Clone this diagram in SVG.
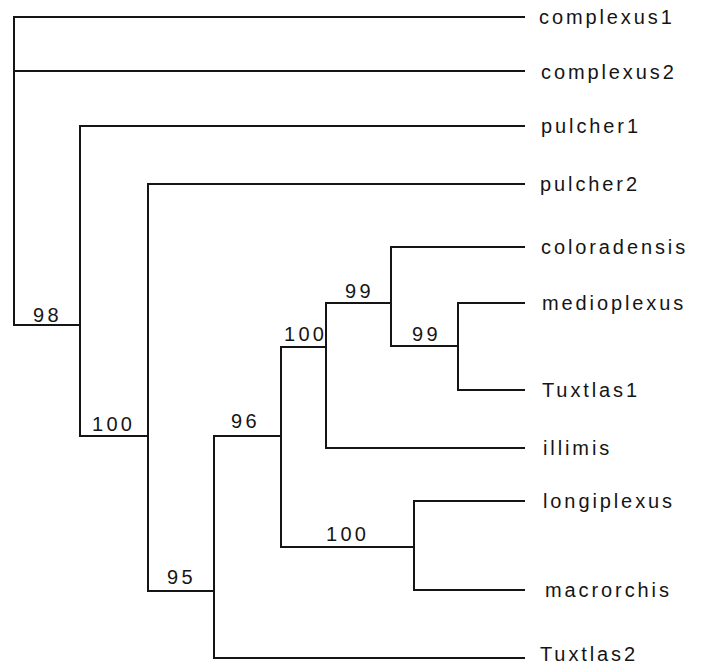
<svg xmlns="http://www.w3.org/2000/svg" width="704" height="666" viewBox="0 0 704 666">
<style>
.e{fill:none;stroke:#151515;stroke-width:2;stroke-linecap:square}
.t{font-family:"Liberation Sans",Arial,sans-serif;font-size:20px;letter-spacing:2.9px;fill:#151515}
.s{font-family:"Liberation Sans",Arial,sans-serif;font-size:20px;letter-spacing:3.3px;fill:#151515}
</style>
<rect width="704" height="666" fill="#fff"/>
<g id="connectors">
<path class="e" d="M524,17H14V325H80"/>
<path class="e" d="M14,71H524"/>
<path class="e" d="M524,126H80V436H148"/>
<path class="e" d="M524,184H148V591H214"/>
<path class="e" d="M281,436H214V658H524"/>
<path class="e" d="M326,347H281V547H414"/>
<path class="e" d="M391,303H326V448H524"/>
<path class="e" d="M524,247H391V346H458"/>
<path class="e" d="M524,303H458V390H524"/>
<path class="e" d="M524,501H414V590H524"/>
</g>
<g id="n98"><text class="s" x="33" y="322">98</text></g>
<g id="n100a"><text class="s" x="92" y="431">100</text></g>
<g id="n95"><text class="s" x="167" y="584">95</text></g>
<g id="n96"><text class="s" x="231" y="428">96</text></g>
<g id="n100b"><text class="s" x="284" y="341">100</text></g>
<g id="n99a"><text class="s" x="345" y="298">99</text></g>
<g id="n99b"><text class="s" x="412" y="341">99</text></g>
<g id="n100c"><text class="s" x="326" y="541">100</text></g>
<g id="complexus1"><text class="t" x="539" y="24">complexus1</text></g>
<g id="complexus2"><text class="t" x="541" y="79">complexus2</text></g>
<g id="pulcher1"><text class="t" x="541" y="133">pulcher1</text></g>
<g id="pulcher2"><text class="t" x="540" y="191">pulcher2</text></g>
<g id="coloradensis"><text class="t" x="541" y="254">coloradensis</text></g>
<g id="medioplexus"><text class="t" x="542" y="310">medioplexus</text></g>
<g id="Tuxtlas1"><text class="t" x="542" y="397">Tuxtlas1</text></g>
<g id="illimis"><text class="t" x="543" y="455">illimis</text></g>
<g id="longiplexus"><text class="t" x="543" y="508">longiplexus</text></g>
<g id="macrorchis"><text class="t" x="545" y="597">macrorchis</text></g>
<g id="Tuxtlas2"><text class="t" x="540" y="661">Tuxtlas2</text></g>
</svg>
